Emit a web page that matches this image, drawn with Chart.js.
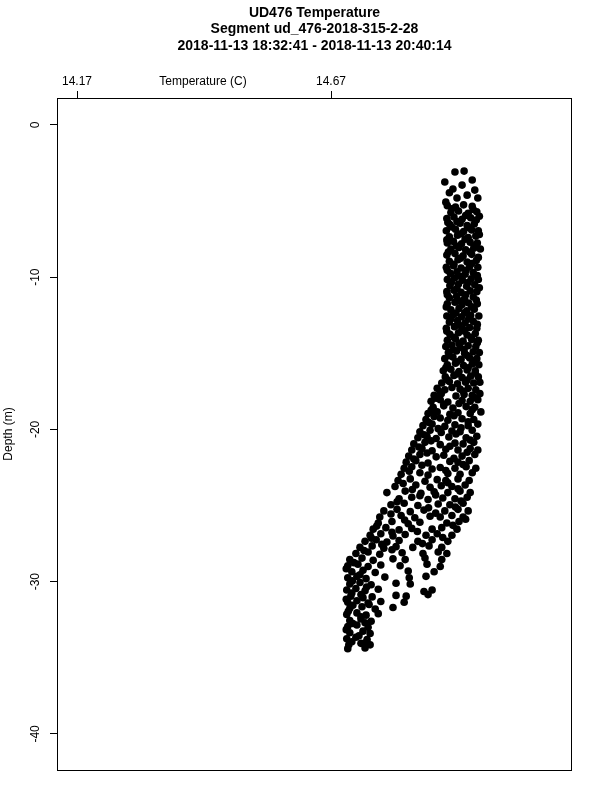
<!DOCTYPE html>
<html>
<head>
<meta charset="utf-8">
<script src="https://cdn.jsdelivr.net/npm/chart.js@4"></script>
<style>
  html, body { margin: 0; padding: 0; background: #fff; }
  #wrap { width: 600px; height: 800px; }
</style>
</head>
<body>
<div id="wrap"><canvas id="profile" width="600" height="800"></canvas></div>
<script>
const titleLines = [
    'UD476 Temperature',
    'Segment ud_476-2018-315-2-28',
    '2018-11-13 18:32:41 - 2018-11-13 20:40:14'
];
const xTitle = 'Temperature (C)';
const yTitle = 'Depth (m)';
const xTicks = [14.17, 14.67];
const yTicks = [0, -10, -20, -30, -40];
const xRange = [14.1306, 15.1444];
const yRange = [-42.37, 1.77];

// [temperature, depth], top of the cast first
const bandTop = [
    [14.914, -3.09], [14.932, -3.03], [14.894, -3.75], [14.928, -3.95], [14.948, -3.62],
    [14.910, -4.21], [14.953, -4.28], [14.938, -4.61], [14.918, -4.80], [14.959, -4.80],
    [14.896, -5.07], [14.903, -4.45]
];

const bandColumn = [
    [14.899, -5.30], [14.915, -5.40], [14.931, -5.25], [14.948, -5.35],
    [14.906, -5.75], [14.921, -5.65], [14.940, -5.80], [14.957, -5.70],
    [14.898, -6.15], [14.912, -6.05], [14.928, -6.20], [14.945, -6.10], [14.956, -6.25],
    [14.904, -6.55], [14.924, -6.45], [14.938, -6.60], [14.952, -6.50],
    [14.897, -6.95], [14.915, -6.85], [14.931, -7.00], [14.947, -6.90], [14.960, -6.95],
    [14.903, -7.35], [14.919, -7.25], [14.940, -7.40], [14.955, -7.30],
    [14.899, -7.75], [14.911, -7.65], [14.927, -7.80], [14.944, -7.70], [14.958, -7.75],
    [14.906, -8.15], [14.922, -8.05], [14.935, -8.20], [14.951, -8.10], [14.964, -8.15],
    [14.898, -8.55], [14.914, -8.45], [14.930, -8.60], [14.947, -8.50],
    [14.903, -8.95], [14.920, -8.85], [14.938, -9.00], [14.956, -8.90],
    [14.897, -9.35], [14.911, -9.25], [14.926, -9.40], [14.943, -9.30], [14.959, -9.35],
    [14.905, -9.75], [14.918, -9.65], [14.934, -9.80], [14.950, -9.70],
    [14.899, -10.15], [14.913, -10.05], [14.929, -10.20], [14.946, -10.10], [14.960, -10.15],
    [14.904, -10.55], [14.921, -10.45], [14.937, -10.60], [14.953, -10.50],
    [14.898, -10.95], [14.912, -10.85], [14.926, -11.00], [14.944, -10.90], [14.957, -10.95],
    [14.903, -11.35], [14.917, -11.25], [14.933, -11.40], [14.950, -11.30],
    [14.899, -11.75], [14.914, -11.65], [14.928, -11.80], [14.941, -11.70], [14.958, -11.75],
    [14.906, -12.15], [14.922, -12.05], [14.937, -12.20], [14.952, -12.10],
    [14.898, -12.55], [14.911, -12.45], [14.927, -12.60], [14.945, -12.50], [14.961, -12.55],
    [14.903, -12.95], [14.919, -12.85], [14.934, -13.00], [14.950, -12.90],
    [14.897, -13.35], [14.913, -13.25], [14.929, -13.40], [14.943, -13.30], [14.957, -13.35],
    [14.904, -13.75], [14.921, -13.65], [14.938, -13.80], [14.954, -13.70],
    [14.899, -14.15], [14.915, -14.05], [14.930, -14.20], [14.947, -14.10], [14.960, -14.15],
    [14.896, -14.55], [14.908, -14.45], [14.924, -14.60], [14.940, -14.50], [14.955, -14.55],
    [14.901, -14.95], [14.917, -14.85], [14.933, -15.00], [14.950, -14.90], [14.962, -14.95],
    [14.894, -15.35], [14.910, -15.25], [14.926, -15.40], [14.943, -15.30], [14.957, -15.35],
    [14.899, -15.75], [14.915, -15.65], [14.931, -15.80], [14.948, -15.70], [14.961, -15.75],
    [14.891, -16.15], [14.906, -16.05], [14.922, -16.20], [14.938, -16.10], [14.954, -16.15],
    [14.895, -16.55], [14.912, -16.45], [14.928, -16.60], [14.945, -16.50], [14.960, -16.55],
    [14.888, -16.95], [14.903, -16.85], [14.919, -17.00], [14.935, -16.90], [14.951, -16.95], [14.963, -16.90]
];

// extra readings between the rows above, where the cloud is solid
const bandColumnFill = [
    [14.908, -5.50], [14.950, -5.55], [14.935, -5.95], [14.962, -6.00],
    [14.918, -6.35], [14.900, -6.40], [14.942, -6.75], [14.908, -6.70],
    [14.926, -7.15], [14.962, -7.20], [14.898, -7.55], [14.934, -7.50],
    [14.917, -7.95], [14.952, -7.95], [14.901, -8.35], [14.943, -8.35],
    [14.925, -8.75], [14.960, -8.70], [14.912, -9.15], [14.947, -9.10],
    [14.899, -9.55], [14.936, -9.55], [14.925, -9.95], [14.958, -9.90],
    [14.907, -10.35], [14.940, -10.35], [14.918, -10.75], [14.962, -10.70],
    [14.935, -11.15], [14.899, -11.15], [14.922, -11.55], [14.956, -11.50],
    [14.897, -11.95], [14.947, -11.95], [14.916, -12.35], [14.933, -12.35],
    [14.941, -12.75], [14.906, -12.75], [14.922, -13.15], [14.958, -13.10],
    [14.898, -13.55], [14.933, -13.55], [14.912, -13.95], [14.946, -13.95],
    [14.922, -14.35], [14.958, -14.30], [14.932, -14.75], [14.910, -14.75],
    [14.903, -15.15], [14.938, -15.15], [14.918, -15.55], [14.952, -15.50],
    [14.896, -15.95], [14.940, -15.95], [14.919, -16.35], [14.954, -16.30],
    [14.900, -16.75], [14.938, -16.75]
];

const bandBend = [
    [14.879, -17.30], [14.894, -17.40], [14.908, -17.25], [14.924, -17.35], [14.940, -17.30], [14.955, -17.40],
    [14.873, -17.75], [14.887, -17.65], [14.916, -17.80], [14.932, -17.70], [14.948, -17.75], [14.963, -17.65],
    [14.867, -18.15], [14.885, -18.05], [14.900, -18.20], [14.928, -18.10], [14.944, -18.15], [14.959, -18.05],
    [14.871, -18.55], [14.892, -18.45], [14.910, -18.60], [14.936, -18.50], [14.953, -18.55],
    [14.861, -18.95], [14.879, -18.85], [14.904, -19.00], [14.920, -18.90], [14.944, -18.95], [14.965, -18.85],
    [14.857, -19.35], [14.885, -19.25], [14.900, -19.40], [14.928, -19.30], [14.951, -19.35],
    [14.851, -19.75], [14.869, -19.65], [14.894, -19.80], [14.914, -19.70], [14.940, -19.75], [14.959, -19.65],
    [14.845, -20.15], [14.865, -20.05], [14.887, -20.20], [14.908, -20.10], [14.924, -20.15], [14.948, -20.05],
    [14.841, -20.55], [14.859, -20.45], [14.877, -20.60], [14.902, -20.50], [14.936, -20.55], [14.957, -20.45],
    [14.833, -20.95], [14.855, -20.85], [14.885, -21.00], [14.914, -20.90], [14.930, -20.95], [14.951, -20.85],
    [14.829, -21.35], [14.849, -21.25], [14.869, -21.40], [14.896, -21.30], [14.920, -21.35], [14.944, -21.25], [14.959, -21.35],
    [14.823, -21.75], [14.845, -21.65], [14.877, -21.80], [14.892, -21.70], [14.928, -21.75], [14.953, -21.65],
    [14.818, -22.15], [14.837, -22.05], [14.861, -22.20], [14.904, -22.10], [14.920, -22.15], [14.942, -22.05],
    [14.814, -22.55], [14.829, -22.45], [14.869, -22.60], [14.885, -22.50], [14.914, -22.55], [14.936, -22.45], [14.955, -22.55],
    [14.808, -22.95], [14.845, -22.85], [14.861, -23.00], [14.900, -22.90], [14.924, -22.95], [14.948, -22.85]
];

const bandBendFill = [
    [14.885, -17.55], [14.930, -17.50], [14.877, -17.95], [14.952, -17.90],
    [14.892, -18.35], [14.922, -18.30], [14.867, -18.75], [14.948, -18.70],
    [14.873, -19.15], [14.912, -19.10], [14.863, -19.55], [14.940, -19.50],
    [14.881, -19.95], [14.926, -19.90], [14.853, -20.35], [14.916, -20.30],
    [14.867, -20.75], [14.944, -20.70], [14.843, -21.15], [14.904, -21.10],
    [14.859, -21.55], [14.938, -21.50], [14.833, -21.95], [14.912, -21.90],
    [14.849, -22.35], [14.930, -22.30], [14.824, -22.75], [14.896, -22.70]
];

const bandSlope = [
    [14.802, -23.35], [14.826, -23.25], [14.855, -23.40], [14.879, -23.30], [14.896, -23.35], [14.920, -23.25], [14.942, -23.35],
    [14.796, -23.75], [14.837, -23.65], [14.865, -23.80], [14.887, -23.70], [14.908, -23.75], [14.934, -23.65],
    [14.780, -24.15], [14.816, -24.05], [14.847, -24.20], [14.873, -24.10], [14.900, -24.15], [14.924, -24.05], [14.944, -24.15],
    [14.804, -24.55], [14.829, -24.45], [14.861, -24.60], [14.890, -24.50], [14.914, -24.55], [14.938, -24.45],
    [14.788, -24.95], [14.814, -24.85], [14.841, -25.00], [14.881, -24.90], [14.904, -24.95], [14.930, -24.85],
    [14.774, -25.35], [14.800, -25.25], [14.826, -25.40], [14.853, -25.30], [14.894, -25.35], [14.920, -25.25], [14.940, -25.35],
    [14.766, -25.75], [14.808, -25.65], [14.835, -25.80], [14.865, -25.70], [14.885, -25.75], [14.908, -25.65], [14.930, -25.75],
    [14.763, -26.15], [14.790, -26.05], [14.822, -26.20], [14.845, -26.10], [14.898, -26.15], [14.922, -26.05],
    [14.753, -26.55], [14.778, -26.45], [14.804, -26.60], [14.829, -26.50], [14.869, -26.55], [14.888, -26.45], [14.918, -26.55],
    [14.747, -26.95], [14.768, -26.85], [14.792, -27.00], [14.816, -26.90], [14.857, -26.95], [14.879, -26.85], [14.908, -26.95],
    [14.737, -27.35], [14.759, -27.25], [14.780, -27.40], [14.804, -27.30], [14.841, -27.35], [14.869, -27.25], [14.900, -27.35],
    [14.727, -27.75], [14.751, -27.65], [14.774, -27.80], [14.798, -27.70], [14.831, -27.75], [14.863, -27.65], [14.888, -27.75],
    [14.719, -28.15], [14.743, -28.05], [14.766, -28.20], [14.810, -28.10], [14.851, -28.15], [14.881, -28.05], [14.898, -28.15]
];

const bandSlopeFill = [
    [14.812, -23.55], [14.900, -23.50], [14.830, -23.95], [14.920, -23.90],
    [14.845, -24.35], [14.876, -24.30], [14.800, -24.75], [14.926, -24.70],
    [14.862, -25.15], [14.915, -25.10], [14.788, -25.55], [14.876, -25.50],
    [14.815, -25.95], [14.935, -25.90], [14.760, -26.35], [14.910, -26.30],
    [14.790, -26.75], [14.840, -26.70], [14.750, -27.15], [14.890, -27.10],
    [14.770, -27.55], [14.850, -27.50], [14.735, -27.95], [14.790, -27.90]
];

const bandBottom = [
    [14.707, -28.55], [14.731, -28.45], [14.753, -28.60], [14.792, -28.50], [14.816, -28.55], [14.855, -28.45], [14.888, -28.55],
    [14.703, -28.95], [14.723, -28.85], [14.743, -29.00], [14.768, -28.90], [14.806, -28.95], [14.859, -28.85], [14.885, -29.00],
    [14.711, -29.35], [14.733, -29.25], [14.757, -29.40], [14.822, -29.30], [14.873, -29.35],
    [14.703, -29.75], [14.721, -29.65], [14.739, -29.80], [14.776, -29.70], [14.824, -29.75], [14.857, -29.65],
    [14.707, -30.15], [14.727, -30.05], [14.749, -30.20], [14.798, -30.10], [14.826, -30.15],
    [14.701, -30.55], [14.719, -30.45], [14.737, -30.60], [14.763, -30.50], [14.869, -30.55], [14.853, -30.65],
    [14.709, -30.95], [14.729, -30.85], [14.751, -31.00], [14.798, -30.90], [14.818, -30.95], [14.861, -30.85],
    [14.703, -31.35], [14.721, -31.25], [14.743, -31.40], [14.768, -31.30], [14.814, -31.35],
    [14.707, -31.75], [14.731, -31.65], [14.757, -31.80], [14.792, -31.70],
    [14.701, -32.15], [14.721, -32.05], [14.739, -32.20], [14.763, -32.10],
    [14.707, -32.55], [14.729, -32.45], [14.749, -32.60],
    [14.703, -32.95], [14.721, -32.85], [14.743, -33.00],
    [14.707, -33.35], [14.733, -33.25], [14.747, -33.40],
    [14.701, -33.75], [14.719, -33.65], [14.741, -33.80],
    [14.705, -34.15], [14.729, -34.05], [14.747, -34.15],
    [14.703, -34.40], [14.737, -34.35]
];

const bandBottomFill = [
    [14.715, -28.75], [14.700, -29.15], [14.727, -29.55], [14.712, -29.95],
    [14.740, -30.35], [14.711, -30.75], [14.700, -31.15], [14.733, -31.05],
    [14.713, -31.55], [14.745, -31.50], [14.704, -31.95], [14.729, -32.30],
    [14.713, -32.75], [14.737, -32.70], [14.700, -33.15], [14.725, -33.55],
    [14.711, -33.95], [14.740, -33.95]
];

const castPoints = [
    ...bandTop, ...bandColumn, ...bandColumnFill, ...bandBend, ...bandBendFill,
    ...bandSlope, ...bandSlopeFill, ...bandBottom, ...bandBottomFill
];

const FONT = '"Liberation Sans", Arial, Helvetica, sans-serif';

// R-style frame: full box, titles, rotated y labels
const rFrame = {
    id: 'rFrame',
    afterDraw(chart) {
        const ctx = chart.ctx;
        const area = chart.chartArea;
        const xs = chart.scales.x;
        const ys = chart.scales.y;
        ctx.save();
        ctx.strokeStyle = '#000';
        ctx.lineWidth = 1;
        ctx.strokeRect(area.left + 0.5, area.top + 0.5, area.right - area.left - 1, area.bottom - area.top);

        ctx.fillStyle = '#000';
        ctx.textAlign = 'center';
        ctx.textBaseline = 'middle';
        ctx.font = 'bold 14px ' + FONT;
        const midX = (area.left + area.right) / 2;
        ctx.fillText(titleLines[0], midX, 13);
        ctx.fillText(titleLines[1], midX, 29);
        ctx.fillText(titleLines[2], midX, 46);

        ctx.font = '12px ' + FONT;
        xTicks.forEach(v => {
            ctx.fillText(v.toFixed(2), xs.getPixelForValue(v), 82);
        });
        ctx.fillText(xTitle, 203, 82);

        yTicks.forEach(v => {
            ctx.save();
            ctx.translate(36, ys.getPixelForValue(v));
            ctx.rotate(-Math.PI / 2);
            ctx.fillText(String(v), 0, 0);
            ctx.restore();
        });
        ctx.save();
        ctx.translate(9, (area.top + area.bottom) / 2);
        ctx.rotate(-Math.PI / 2);
        ctx.fillText(yTitle, 0, 0);
        ctx.restore();
        ctx.restore();
    }
};

new Chart(document.getElementById('profile'), {
    type: 'scatter',
    data: {
        datasets: [{
            label: 'Temperature',
            data: castPoints.map(p => ({ x: p[0], y: p[1] })),
            backgroundColor: '#000',
            borderWidth: 0,
            pointRadius: 3.8,
            pointHoverRadius: 3.8
        }]
    },
    options: {
        responsive: false,
        animation: false,
        devicePixelRatio: 1,
        layout: { padding: { left: 0, top: 0, right: 28, bottom: 30 } },
        plugins: {
            legend: { display: false },
            title: { display: false },
            tooltip: { enabled: false }
        },
        scales: {
            x: {
                type: 'linear',
                position: 'top',
                min: xRange[0],
                max: xRange[1],
                afterBuildTicks: s => { s.ticks = xTicks.map(v => ({ value: v })); },
                afterFit: s => { s.height = 98; },
                ticks: { display: false },
                border: { display: false },
                grid: { drawOnChartArea: false, drawTicks: true, tickLength: 7, color: '#000', lineWidth: 1 }
            },
            y: {
                type: 'linear',
                position: 'left',
                min: yRange[0],
                max: yRange[1],
                afterBuildTicks: s => { s.ticks = yTicks.map(v => ({ value: v })); },
                afterFit: s => { s.width = 57; },
                ticks: { display: false },
                border: { display: false },
                grid: { drawOnChartArea: false, drawTicks: true, tickLength: 7, color: '#000', lineWidth: 1 }
            }
        }
    },
    plugins: [rFrame]
});
</script>
</body>
</html>
